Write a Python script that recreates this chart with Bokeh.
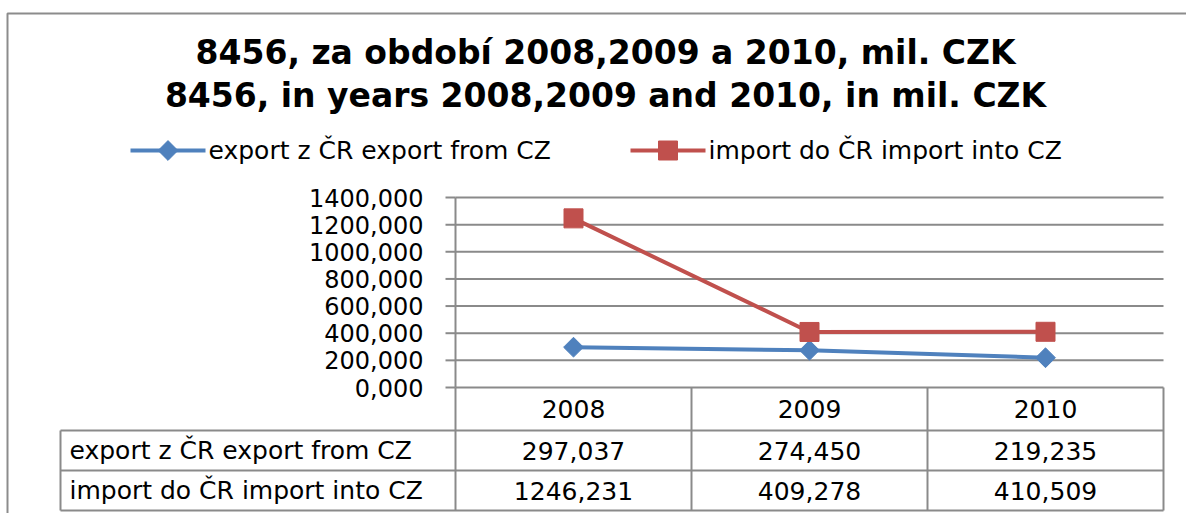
from bokeh.plotting import figure
from bokeh.models import Range1d
from bokeh.embed import file_html
from bokeh.resources import INLINE
from bokeh.core.properties import value

# ---- data ----
TITLE_LINES = ["8456, za období 2008,2009 a 2010, mil. CZK",
               "8456, in years 2008,2009 and 2010, in mil. CZK"]
YEARS = ["2008", "2009", "2010"]
SERIES_NAMES = ["export z ČR export from CZ", "import do ČR import into CZ"]
EXPORT = [297.037, 274.450, 219.235]
IMPORT = [1246.231, 409.278, 410.509]
Y_TICKS = [0, 200, 400, 600, 800, 1000, 1200, 1400]
COLORS = ["#4F81BD", "#C0504D"]


def fmt(v):
    return f"{v:.3f}".replace(".", ",")


# ---- layout (figure pixels) ----
W, H = 1186, 513
PLOT_L, PLOT_R = 455, 1163
PLOT_T, PLOT_B = 197, 387
TABLE_L = 60
ROW_EDGES = [PLOT_B, 430, 470, 510]
Y_MAX = Y_TICKS[-1]
NC = len(YEARS)
COL_W = (PLOT_R - PLOT_L) / NC
PPU = (PLOT_B - PLOT_T) / Y_MAX
FONT = value("DejaVu Sans")
FS = "25px"
FS_TICK = "24px"
GRID = "#8a8a8a"

p = figure(width=W, height=H,
           x_range=Range1d(-PLOT_L / COL_W, (W - PLOT_L) / COL_W),
           y_range=Range1d(-(H - PLOT_B) / PPU, PLOT_B / PPU),
           x_axis_location=None, y_axis_location=None,
           output_backend="svg", toolbar_location=None, min_border=0,
           outline_line_color=None, background_fill_color="white",
           border_fill_color="white")
p.xgrid.grid_line_color = None
p.ygrid.grid_line_color = None
p.extra_x_ranges = {"px": Range1d(0, W)}
p.extra_y_ranges = {"px": Range1d(H, 0)}

# outer chart border
p.line(x=[7, 7, W], y=[H, 13, 13], x_range_name="px", y_range_name="px",
       line_color="#8c8c8c", line_width=2)

# title
for i, t in enumerate(TITLE_LINES):
    p.text(x=[605], y=[52 + 43 * i], text=[t], x_range_name="px", y_range_name="px",
           text_align="center", text_baseline="middle", text_font=FONT,
           text_font_style="bold", text_font_size="33px", text_color="black")

# legend
LEG_X = [130, 630]
LEG_Y = 150
for i, name in enumerate(SERIES_NAMES):
    x0 = LEG_X[i]
    p.line(x=[x0, x0 + 75], y=[LEG_Y, LEG_Y], x_range_name="px", y_range_name="px",
           line_color=COLORS[i], line_width=4)
    if i == 0:
        p.scatter(x=[x0 + 37.5], y=[LEG_Y], x_range_name="px", y_range_name="px",
                  marker="square", angle=0.785398, size=14, fill_color=COLORS[i],
                  line_color=COLORS[i])
    else:
        p.scatter(x=[x0 + 37.5], y=[LEG_Y], x_range_name="px", y_range_name="px",
                  marker="square", size=19, fill_color=COLORS[i], line_color=COLORS[i])
    p.text(x=[x0 + 78], y=[LEG_Y], text=[name], x_range_name="px", y_range_name="px",
           text_align="left", text_baseline="middle", text_font=FONT,
           text_font_size=FS, text_color="black")

# gridlines and tick marks
n = len(Y_TICKS)
p.segment(x0=[0] * n, x1=[NC] * n, y0=Y_TICKS, y1=Y_TICKS,
          line_color=GRID, line_width=2)
p.segment(x0=[-10 / COL_W] * n, x1=[0] * n, y0=Y_TICKS, y1=Y_TICKS,
          line_color=GRID, line_width=2)
p.text(x=[-32 / COL_W] * n, y=Y_TICKS, text=[fmt(t) for t in Y_TICKS],
       text_align="right", text_baseline="middle", text_font=FONT,
       text_font_size=FS_TICK, text_color="black")

# axis line / table verticals
p.segment(x0=[0], x1=[0], y0=[Y_MAX], y1=[0], line_color=GRID, line_width=2)
p.segment(x0=list(range(NC + 1)), x1=list(range(NC + 1)),
          y0=[ROW_EDGES[0]] * (NC + 1), y1=[ROW_EDGES[-1]] * (NC + 1),
          y_range_name="px", line_color=GRID, line_width=2)
for ye in ROW_EDGES[1:]:
    p.segment(x0=[TABLE_L], x1=[PLOT_R], y0=[ye], y1=[ye],
              x_range_name="px", y_range_name="px", line_color=GRID, line_width=2)
p.segment(x0=[TABLE_L], x1=[TABLE_L], y0=[ROW_EDGES[1]], y1=[ROW_EDGES[-1]],
          x_range_name="px", y_range_name="px", line_color=GRID, line_width=2)

# table texts
centers = [(ROW_EDGES[k] + ROW_EDGES[k + 1]) / 2 for k in range(3)]
xs = [i + 0.5 for i in range(NC)]
p.text(x=xs, y=[centers[0]] * NC, text=YEARS, y_range_name="px",
       text_align="center", text_baseline="middle", text_font=FONT,
       text_font_size=FS, text_color="black")
for r, (name, vals) in enumerate(zip(SERIES_NAMES, [EXPORT, IMPORT])):
    p.text(x=[TABLE_L + 9], y=[centers[r + 1]], text=[name], x_range_name="px",
           y_range_name="px", text_align="left", text_baseline="middle",
           text_font=FONT, text_font_size=FS, text_color="black")
    p.text(x=xs, y=[centers[r + 1]] * NC, text=[fmt(v) for v in vals], y_range_name="px",
           text_align="center", text_baseline="middle", text_font=FONT,
           text_font_size=FS, text_color="black")

# series
p.line(x=xs, y=EXPORT, line_color=COLORS[0], line_width=4)
p.scatter(x=xs, y=EXPORT, marker="square", angle=0.785398, size=14,
          fill_color=COLORS[0], line_color=COLORS[0])
p.line(x=xs, y=IMPORT, line_color=COLORS[1], line_width=4)
p.scatter(x=xs, y=IMPORT, marker="square", size=19,
          fill_color=COLORS[1], line_color=COLORS[1])

open("out.html", "w").write(file_html(p, INLINE))
